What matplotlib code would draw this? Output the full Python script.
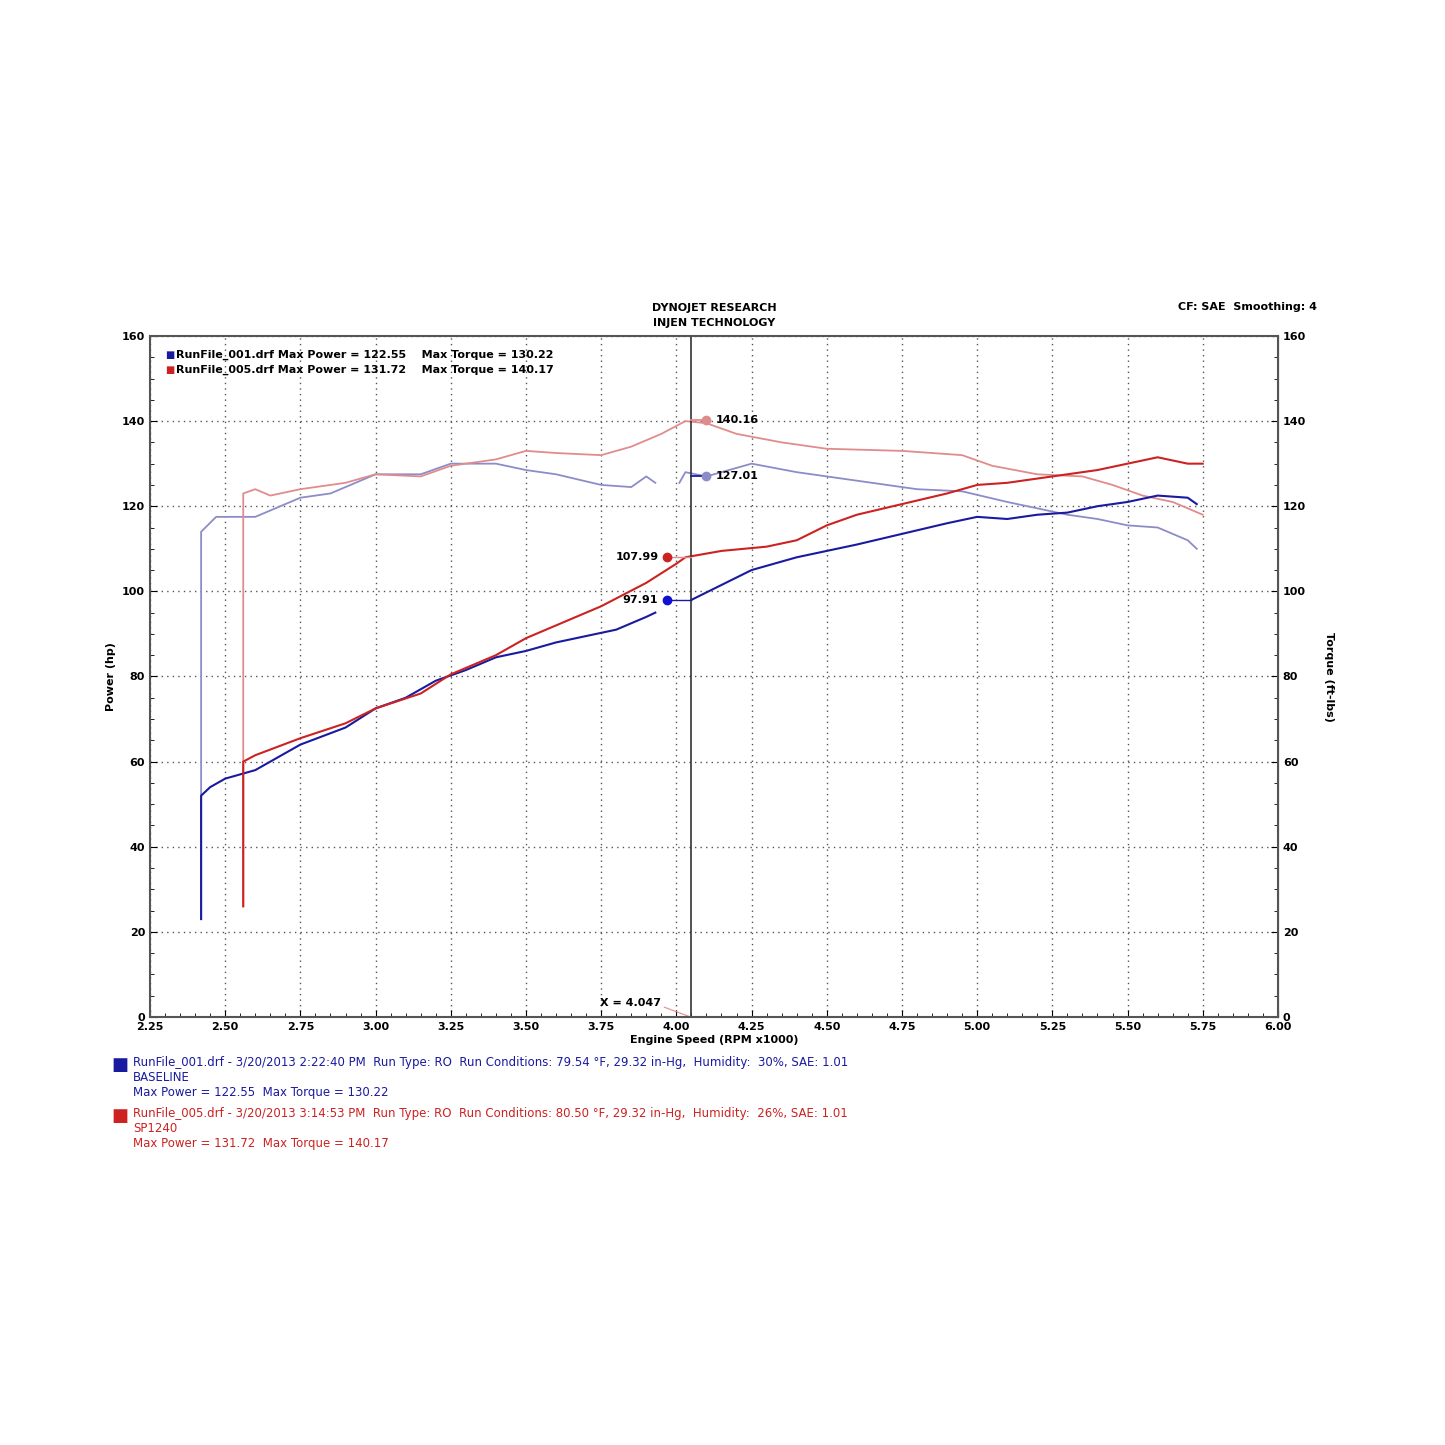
import matplotlib.pyplot as plt
from matplotlib.ticker import MultipleLocator

# run 001 (baseline) - power, two segments around the cursor gap
base_hp_x1 = [2.42, 2.42, 2.45, 2.50, 2.60, 2.75, 2.90, 3.00, 3.10, 3.20, 3.30, 3.40, 3.50, 3.60, 3.70, 3.80, 3.90, 3.93]
base_hp_y1 = [23, 52, 54, 56, 58, 64, 68, 72.5, 75, 79, 81.5, 84.5, 86, 88, 89.5, 91, 94, 95]
base_hp_x2 = [4.05, 4.15, 4.25, 4.40, 4.50, 4.60, 4.75, 4.90, 5.00, 5.10, 5.20, 5.30, 5.40, 5.50, 5.60, 5.70, 5.73]
base_hp_y2 = [98, 101.5, 105, 108, 109.5, 111, 113.5, 116, 117.5, 117, 118, 118.5, 120, 121, 122.5, 122, 120.5]
base_tq_x1 = [2.42, 2.42, 2.47, 2.60, 2.75, 2.85, 3.00, 3.15, 3.25, 3.40, 3.50, 3.60, 3.75, 3.85, 3.90, 3.93]
base_tq_y1 = [23, 114, 117.5, 117.5, 122, 123, 127.5, 127.5, 130, 130, 128.5, 127.5, 125, 124.5, 127, 125.5]
base_tq_x2 = [4.01, 4.03, 4.10, 4.25, 4.40, 4.60, 4.80, 4.95, 5.10, 5.20, 5.30, 5.40, 5.50, 5.60, 5.70, 5.73]
base_tq_y2 = [125.5, 128, 127, 130, 128, 126, 124, 123.5, 121, 119.5, 118, 117, 115.5, 115, 112, 110]

# run 005 (SP1240)
sp_hp_x = [2.56, 2.56, 2.60, 2.75, 2.90, 3.00, 3.15, 3.25, 3.40, 3.50, 3.60, 3.75, 3.90, 4.00, 4.03, 4.15, 4.30, 4.40, 4.50, 4.60, 4.75, 4.90, 5.00, 5.10, 5.25, 5.40, 5.50, 5.60, 5.70, 5.75]
sp_hp_y = [26, 60, 61.5, 65.5, 69, 72.5, 76, 80.5, 85, 89, 92, 96.5, 102, 106.5, 108, 109.5, 110.5, 112, 115.5, 118, 120.5, 123, 125, 125.5, 127, 128.5, 130, 131.5, 130, 130]
sp_tq_x = [2.56, 2.56, 2.60, 2.65, 2.75, 2.90, 3.00, 3.15, 3.25, 3.40, 3.50, 3.60, 3.75, 3.85, 3.95, 4.03, 4.10, 4.20, 4.35, 4.50, 4.75, 4.95, 5.05, 5.20, 5.35, 5.45, 5.55, 5.65, 5.75]
sp_tq_y = [26, 123, 124, 122.5, 124, 125.5, 127.5, 127, 129.5, 131, 133, 132.5, 132, 134, 137, 140, 139.5, 137, 135, 133.5, 133, 132, 129.5, 127.5, 127, 125, 122.5, 121, 118]

cursor_x = 4.047
cursor_vals = [140.16, 127.01, 107.99, 97.91]

BLUE = '#1a1aa0'
RED = '#cc2222'
LBLUE = '#8c8cc8'
LRED = '#e08c8c'

fig = plt.figure(figsize=(14.45, 14.45), dpi=100)
ax = fig.add_axes([0.1038, 0.2962, 0.7806, 0.4713])
ax.set_xlim(2.25, 6.0)
ax.set_ylim(0, 160)

ax.plot(base_tq_x1, base_tq_y1, color=LBLUE, lw=1.3)
ax.plot(base_tq_x2, base_tq_y2, color=LBLUE, lw=1.3)
ax.plot(sp_tq_x, sp_tq_y, color=LRED, lw=1.3)
ax.plot(base_hp_x1, base_hp_y1, color=BLUE, lw=1.5)
ax.plot(base_hp_x2, base_hp_y2, color=BLUE, lw=1.5)
ax.plot(sp_hp_x, sp_hp_y, color=RED, lw=1.5)

ax.axvline(cursor_x, color='#333333', lw=1.2)
bold = dict(fontsize=8, fontweight='bold')
ax.plot([cursor_x, 4.1], [cursor_vals[0]] * 2, color=LRED, lw=1.3)
ax.plot(4.1, cursor_vals[0], 'o', color=LRED, ms=6)
ax.text(4.13, cursor_vals[0], f'{cursor_vals[0]:.2f}', va='center', **bold)
ax.plot([cursor_x, 4.1], [cursor_vals[1]] * 2, color=BLUE, lw=1.3)
ax.plot(4.1, cursor_vals[1], 'o', color=LBLUE, ms=6)
ax.text(4.13, cursor_vals[1], f'{cursor_vals[1]:.2f}', va='center', **bold)
ax.plot([3.97, cursor_x], [cursor_vals[2]] * 2, color=LRED, lw=1.0)
ax.plot(3.97, cursor_vals[2], 'o', color=RED, ms=6)
ax.text(3.94, cursor_vals[2], f'{cursor_vals[2]:.2f}', va='center', ha='right', **bold)
ax.plot([3.97, cursor_x], [cursor_vals[3]] * 2, color=BLUE, lw=1.0)
ax.plot(3.97, cursor_vals[3], 'o', color='#1010d0', ms=6)
ax.text(3.94, cursor_vals[3], f'{cursor_vals[3]:.2f}', va='center', ha='right', **bold)
ax.text(3.95, 2.5, f'X = {cursor_x:.3f}', ha='right', **bold)
ax.plot([3.96, cursor_x], [2.3, 0], color=LRED, lw=0.8)

ax.xaxis.set_major_locator(MultipleLocator(0.25))
ax.xaxis.set_minor_locator(MultipleLocator(0.05))
ax.yaxis.set_major_locator(MultipleLocator(20))
ax.yaxis.set_minor_locator(MultipleLocator(5))
ax.xaxis.set_major_formatter(lambda v, p: f'{v:.2f}')
ax.grid(True, which='major', color='#555555', ls=(0, (1, 3)), lw=1)
ax.tick_params(which='both', direction='in', labelsize=8, right=True, labelright=True)
ax.tick_params(which='major', length=5)
ax.tick_params(which='minor', length=3)
for lab in ax.get_xticklabels() + ax.get_yticklabels():
    lab.set_fontweight('bold')
for s in ax.spines.values():
    s.set_color('#555555')
    s.set_linewidth(1.5)

ax.set_xlabel('Engine Speed (RPM x1000)', **bold, labelpad=2)
ax.set_ylabel('Power (hp)', **bold)
ax2 = ax.secondary_yaxis('right')
ax2.set_yticks([])
ax2.set_ylabel('Torque (ft-lbs)', rotation=270, labelpad=40, **bold)

ax.text(0.5, 1.012, 'DYNOJET RESEARCH\nINJEN TECHNOLOGY', transform=ax.transAxes,
        ha='center', va='bottom', linespacing=1.6, **bold)
ax.text(1.035, 1.035, 'CF: SAE  Smoothing: 4', transform=ax.transAxes, ha='right', va='bottom', **bold)

ax.text(0.013, 0.972, '\u25A0', color=BLUE, transform=ax.transAxes, fontsize=7, va='center')
ax.text(0.023, 0.972, 'RunFile_001.drf Max Power = 122.55    Max Torque = 130.22',
        transform=ax.transAxes, va='center', **bold)
ax.text(0.013, 0.950, '\u25A0', color=RED, transform=ax.transAxes, fontsize=7, va='center')
ax.text(0.023, 0.950, 'RunFile_005.drf Max Power = 131.72    Max Torque = 140.17',
        transform=ax.transAxes, va='center', **bold)

fig.text(0.077, 0.263, '\u25A0', color=BLUE, fontsize=13, va='center')
fig.text(0.092, 0.269, 'RunFile_001.drf - 3/20/2013 2:22:40 PM  Run Type: RO  Run Conditions: 79.54 \u00b0F, 29.32 in-Hg,  Humidity:  30%, SAE: 1.01\nBASELINE\nMax Power = 122.55  Max Torque = 130.22',
         color=BLUE, fontsize=8.5, va='top', linespacing=1.2, family='Liberation Sans Narrow')
fig.text(0.077, 0.228, '\u25A0', color=RED, fontsize=13, va='center')
fig.text(0.092, 0.234, 'RunFile_005.drf - 3/20/2013 3:14:53 PM  Run Type: RO  Run Conditions: 80.50 \u00b0F, 29.32 in-Hg,  Humidity:  26%, SAE: 1.01\nSP1240\nMax Power = 131.72  Max Torque = 140.17',
         color=RED, fontsize=8.5, va='top', linespacing=1.2, family='Liberation Sans Narrow')

fig.savefig('out.png', dpi=100)
